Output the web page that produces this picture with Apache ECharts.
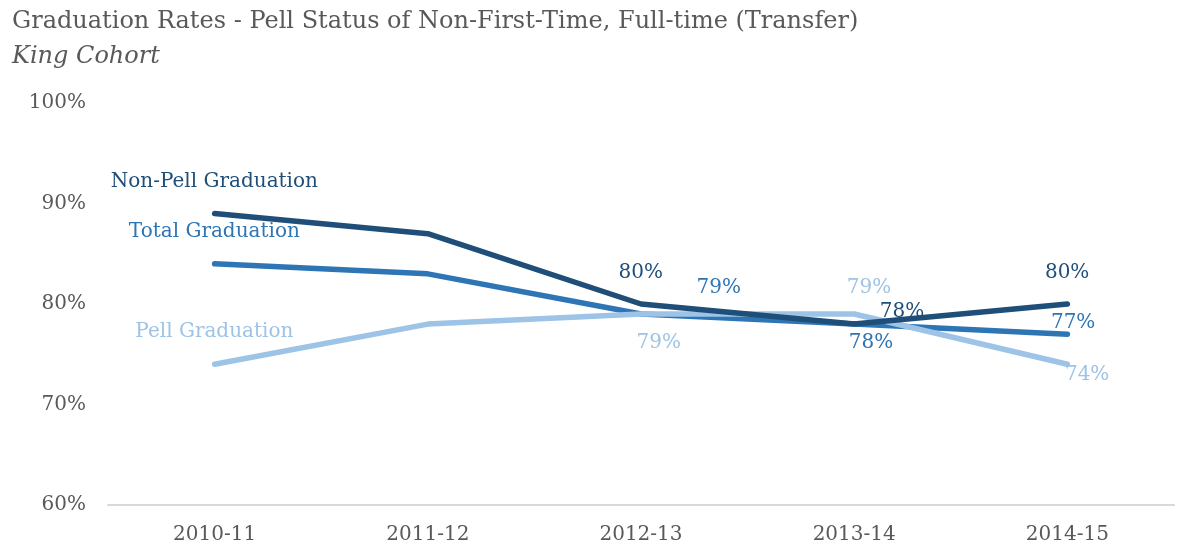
<!DOCTYPE html>
<html><head><meta charset="utf-8">
<script src="https://cdn.jsdelivr.net/npm/echarts@6/dist/echarts.min.js"></script>
<style>html,body{margin:0;padding:0;background:#fff}#c{width:1197px;height:558px}</style>
</head><body><div id="c"></div>
<script>
var categories = ['2010-11','2011-12','2012-13','2013-14','2014-15'];
var totalGrad = [84, 83, 79, 78, 77];
var pellGrad = [74, 78, 79, 79, 74];
var nonPellGrad = [89, 87, 80, 78, 80];
var yTicks = [60, 70, 80, 90, 100];

// label placement (style only): [dx, dy] relative to point, null = no label
var nonPellLabelOffsets = [null, null, [0, -31], [48, -12], [0, -31]];
var totalLabelOffsets = [null, null, [78, -26], [17, 19], [6, -11]];
var pellLabelOffsets = [null, null, [18, 29], [15, -26], [20, 11]];

var FONT = 'DejaVu Serif';
var chart = echarts.init(document.getElementById('c'));

function buildData(name, values, offsets, nameOffsetY) {
  return values.map(function (v, i) {
    var d = { value: v };
    if (i === 0) {
      d.label = { show: true, position: [0, nameOffsetY], formatter: name };
    } else if (offsets[i]) {
      d.label = { show: true, position: offsets[i], formatter: '{c}%' };
    }
    return d;
  });
}

function mkSeries(name, values, offsets, color, z) {
  return {
    name: name, type: 'line', z: z,
    data: buildData(name, values, offsets, -32),
    symbol: 'circle', symbolSize: 0.5, showSymbol: true,
    itemStyle: { color: color },
    lineStyle: { color: color, width: 5.5, cap: 'round', join: 'round' },
    label: { show: false, color: color, fontFamily: FONT, fontSize: 20,
      align: 'center', verticalAlign: 'middle' },
    emphasis: { disabled: true },
    labelLayout: { hideOverlap: false },
    animation: false
  };
}

chart.setOption({
  animation: false,
  title: [
    { text: 'Graduation Rates - Pell Status of Non-First-Time, Full-time (Transfer)',
      left: 7, top: 5,
      textStyle: { fontFamily: FONT, fontWeight: 'normal', fontSize: 24, color: '#595959' } },
    { text: 'King Cohort', left: 7, top: 40,
      textStyle: { fontFamily: FONT, fontStyle: 'italic', fontWeight: 'normal', fontSize: 24, color: '#595959' } }
  ],
  grid: { left: 108, right: 23, top: 103, bottom: 53 },
  xAxis: {
    type: 'category', data: categories, boundaryGap: true,
    axisLine: { show: true, lineStyle: { color: '#d9d9d9', width: 2 } },
    axisTick: { show: false },
    axisLabel: { color: '#595959', fontFamily: FONT, fontSize: 20, margin: 20 }
  },
  yAxis: {
    type: 'value', min: yTicks[0], max: yTicks[yTicks.length - 1], interval: 10,
    splitLine: { show: false },
    axisLine: { show: false }, axisTick: { show: false },
    axisLabel: { color: '#595959', fontFamily: FONT, fontSize: 20, margin: 22,
      formatter: '{value}%' }
  },
  series: [
    mkSeries('Total Graduation', totalGrad, totalLabelOffsets, '#2e75b6', 2),
    mkSeries('Pell Graduation', pellGrad, pellLabelOffsets, '#9dc3e6', 3),
    mkSeries('Non-Pell Graduation', nonPellGrad, nonPellLabelOffsets, '#1f4e79', 4)
  ]
});
</script></body></html>
